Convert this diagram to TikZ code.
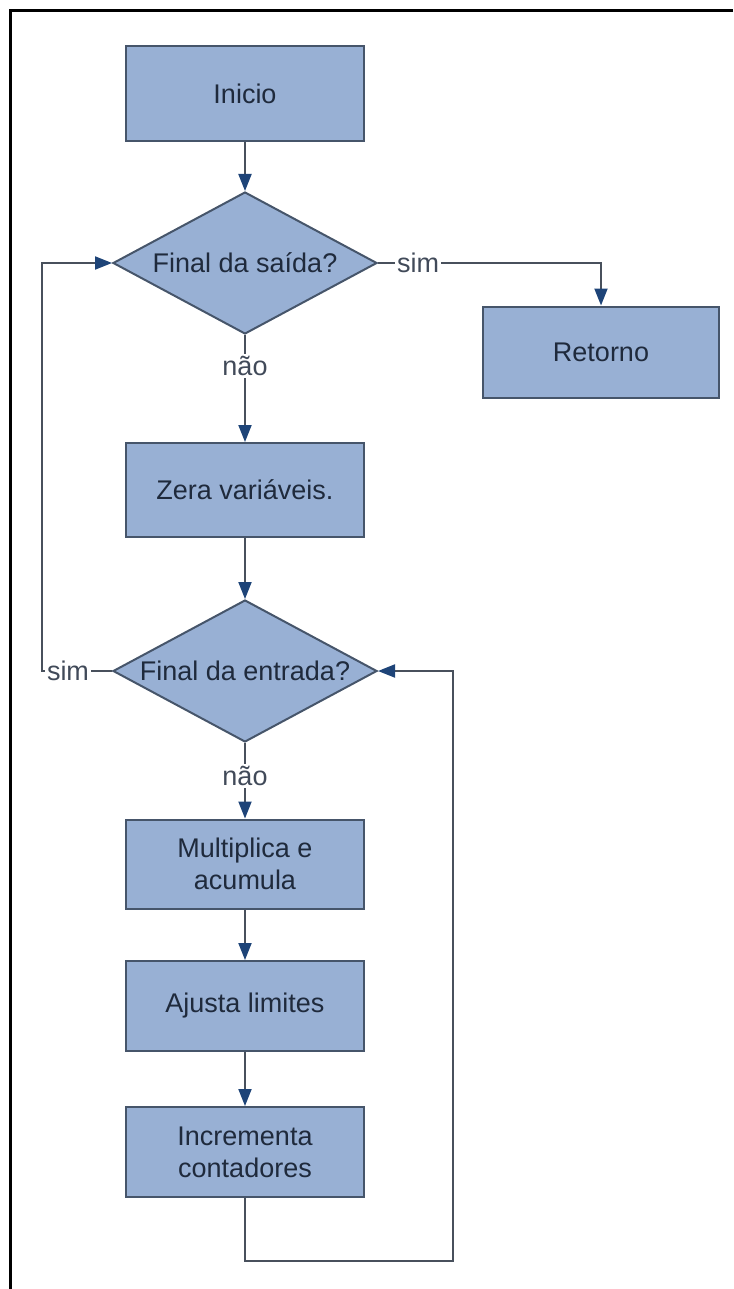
\documentclass[tikz,border=0pt]{standalone}
\usepackage{fontspec}
\setmainfont{Liberation Sans}
\usetikzlibrary{arrows.meta,shapes.geometric}
\definecolor{caixa}{HTML}{98B0D4}
\definecolor{borda}{HTML}{46556A}
\definecolor{linha}{HTML}{48505C}
\definecolor{ponta}{HTML}{1E4478}
\definecolor{texto}{HTML}{1F2A3C}

\begin{document}
\begin{tikzpicture}[x=1pt,y=-1pt,
  bloco/.style={draw=borda,line width=2pt,fill=caixa,text=texto,align=center,
    minimum width=238pt,inner sep=0pt,font=\fontsize{27}{32}\selectfont},
  decisao/.style={diamond,draw=borda,line width=2pt,fill=caixa,text=texto,
    aspect=1.86,inner sep=0pt,minimum width=264pt,minimum height=142pt,
    font=\fontsize{27}{32}\selectfont},
  rotulo/.style={text=texto!85,inner sep=2pt,font=\fontsize{27}{32}\selectfont},
  seta/.style={draw=linha,line width=2pt,-{Triangle[length=17pt,width=13pt,color=ponta]}},
  liga/.style={draw=linha,line width=2pt}]
  \useasboundingbox (0,0) rectangle (733,1289);
  % moldura
  \draw[line width=3pt] (733,11) -- (10,11) -- (10,1289);

  % caixas
  \node[bloco,minimum height=95pt] (inicio) at (245,94) {Inicio};
  \node[decisao] (saida) at (245,263) {Final da saída?};
  \node[bloco,minimum width=236pt,minimum height=91pt] (retorno) at (601,352) {Retorno};
  \node[bloco,minimum height=94pt] (zera) at (245,490) {Zera variáveis.};
  \node[decisao] (entrada) at (245,671) {Final da entrada?};
  \node[bloco,minimum height=89pt] (multiplica) at (245,864) {Multiplica e\\acumula};
  \node[bloco,minimum height=90pt] (ajusta) at (245,1006) {Ajusta limites};
  \node[bloco,minimum height=90pt] (incrementa) at (245,1152) {Incrementa\\contadores};

  % rotulos
  \node[rotulo] (sim1) at (418,263) {sim};
  \node[rotulo] (nao1) at (245,366) {não};
  \node[rotulo] (sim2) at (68,671) {sim};
  \node[rotulo] (nao2) at (245,776) {não};
  \coordinate (esq) at (42,263);
  \coordinate (baixo) at (453,1261);

  % ligacoes
  \draw[seta] (inicio) -- (saida);
  \draw[liga] (saida) -- (sim1);
  \draw[seta] (sim1) -| (retorno);
  \draw[liga] (saida) -- (nao1);
  \draw[seta] (nao1) -- (zera);
  \draw[seta] (zera) -- (entrada);
  \draw[liga] (entrada) -- (sim2);
  \draw[seta] (sim2) -| (esq) -- (saida.west);
  \draw[liga] (entrada) -- (nao2);
  \draw[seta] (nao2) -- (multiplica);
  \draw[seta] (multiplica) -- (ajusta);
  \draw[seta] (ajusta) -- (incrementa);
  \draw[seta] (incrementa) |- (baixo) |- (entrada.east);
\end{tikzpicture}
\end{document}
